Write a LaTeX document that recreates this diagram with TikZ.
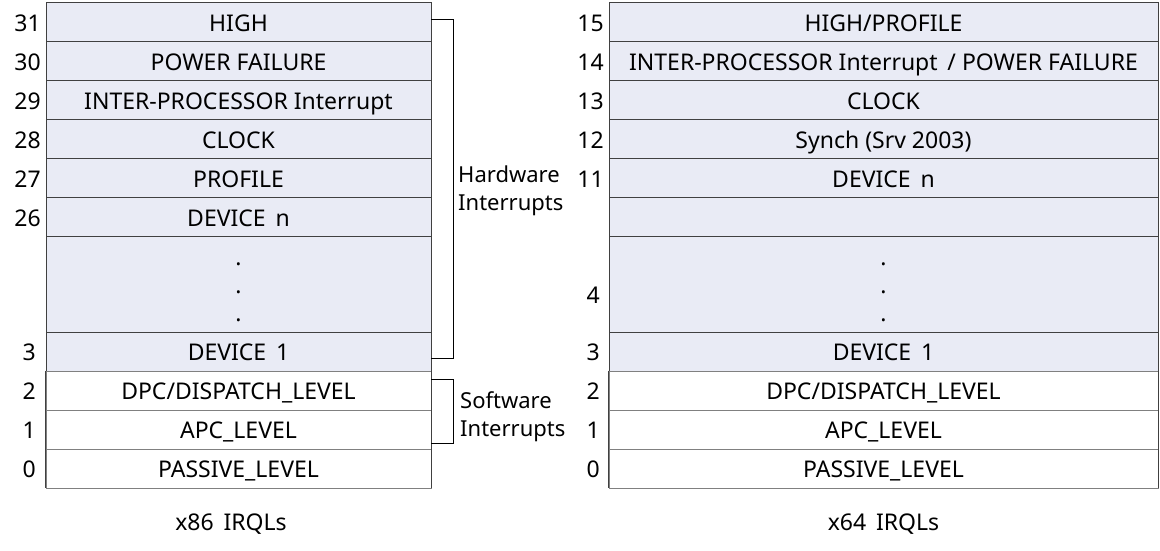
\documentclass[tikz,border=0pt]{standalone}
\usepackage{fontspec}
\setmainfont{Noto Sans}
\definecolor{hwfill}{RGB}{233,235,245}
\definecolor{linedark}{RGB}{64,64,64}
\definecolor{linegray}{RGB}{128,128,128}
\begin{document}
\begin{tikzpicture}[x=1pt,y=-1pt,
  txt/.style={inner sep=0pt, text height=21pt, text depth=2.6pt, font=\fontsize{23}{28}\selectfont},
  cell/.style={txt, draw=linedark, line width=0.9pt, rectangle, minimum height=39pt},
  hwL/.style={cell, fill=hwfill, minimum width=385pt},
  swL/.style={cell, draw=linegray, fill=white, minimum width=385pt},
  hwR/.style={cell, fill=hwfill, minimum width=549pt},
  swR/.style={cell, draw=linegray, fill=white, minimum width=549pt},
  num/.style={txt, anchor=east},
  lbl/.style={anchor=west, inner sep=0pt, align=left, font=\fontsize{22}{28}\selectfont},
  captext/.style={txt},
  dotx/.style={inner sep=0pt, font=\fontsize{23}{28}\selectfont},
  brk/.style={draw=black, line width=0.9pt}
]
\useasboundingbox (0,0) rectangle (1160,550);
% ---------- left table (x86) ----------
\node[hwL] (L31) at (238.5,22)  {HIGH};
\node[hwL] (L30) at (238.5,61)  {POWER FAILURE};
\node[hwL] (L29) at (238.5,100) {INTER-PROCESSOR Interrupt};
\node[hwL] (L28) at (238.5,139) {CLOCK};
\node[hwL] (L27) at (238.5,178) {PROFILE};
\node[hwL] (L26) at (238.5,217) {DEVICE\, n};
\node[hwL, minimum height=96pt] (Ldots) at (238.5,284) {};
\node[hwL] (L3)  at (238.5,351.5) {DEVICE\, 1};
\node[swL] (L2)  at (238.5,390.5) {DPC/DISPATCH\_LEVEL};
\node[swL] (L1)  at (238.5,429.5) {APC\_LEVEL};
\node[swL] (L0)  at (238.5,468.5) {PASSIVE\_LEVEL};
\draw[linedark, line width=0.9pt] (L2.north west) -- (L0.south west) (L2.north east) -- (L0.south east);
\node[dotx] (Ld1) at (238.5,264) {.};
\node[dotx] (Ld2) at (238.5,292) {.};
\node[dotx] (Ld3) at (238.5,320) {.};
\node[num] (nL31) at (41,22)  {31};
\node[num] (nL30) at (41,61)  {30};
\node[num] (nL29) at (41,100) {29};
\node[num] (nL28) at (41,139) {28};
\node[num] (nL27) at (41,178) {27};
\node[num] (nL26) at (41,217) {26};
\node[num] (nL3)  at (36,351.5) {3};
\node[num] (nL2)  at (36,390.5) {2};
\node[num] (nL1)  at (36,429.5) {1};
\node[num] (nL0)  at (36,468.5) {0};
\node[captext] (capL) at (231,521) {x86~\,IRQLs};
% brackets
\coordinate (hwtop) at ([yshift=3pt]L31.east);
\coordinate (hwbot) at ([yshift=-6.5pt]L3.east);
\draw[brk] (hwtop) -- ++(22,0) coordinate (hwc) |- (hwbot);
\coordinate (swtop) at ([yshift=11.5pt]L2.east);
\coordinate (swbot) at ([yshift=-13.5pt]L1.east);
\draw[brk] (swtop) -- ++(22,0) coordinate (swc) |- (swbot);
\node[lbl] (hwlbl) at (458,191) {Hardware\\Interrupts};
\node[lbl] (swlbl) at (460,417) {Software\\Interrupts};
% ---------- right table (x64) ----------
\node[hwR] (R15) at (883.5,22)  {HIGH/PROFILE};
\node[hwR] (R14) at (883.5,61)  {INTER-PROCESSOR Interrupt\, / POWER FAILURE};
\node[hwR] (R13) at (883.5,100) {CLOCK};
\node[hwR] (R12) at (883.5,139) {Synch (Srv 2003)};
\node[hwR] (R11) at (883.5,178) {DEVICE\, n};
\node[hwR] (Rblank) at (883.5,217) {};
\node[hwR, minimum height=96pt] (Rdots) at (883.5,284) {};
\node[hwR] (R3)  at (883.5,351.5) {DEVICE\, 1};
\node[swR] (R2)  at (883.5,390.5) {DPC/DISPATCH\_LEVEL};
\node[swR] (R1)  at (883.5,429.5) {APC\_LEVEL};
\node[swR] (R0)  at (883.5,468.5) {PASSIVE\_LEVEL};
\draw[linedark, line width=0.9pt] (R2.north west) -- (R0.south west) (R2.north east) -- (R0.south east);
\node[dotx] (Rd1) at (883.5,264) {.};
\node[dotx] (Rd2) at (883.5,292) {.};
\node[dotx] (Rd3) at (883.5,320) {.};
\node[num] (nR15) at (604,22)  {15};
\node[num] (nR14) at (604,61)  {14};
\node[num] (nR13) at (604,100) {13};
\node[num] (nR12) at (604,139) {12};
\node[num] (nR11) at (604,178) {11};
\node[num] (nR4)  at (600,294) {4};
\node[num] (nR3)  at (600,351.5) {3};
\node[num] (nR2)  at (600,390.5) {2};
\node[num] (nR1)  at (600,429.5) {1};
\node[num] (nR0)  at (600,468.5) {0};
\node[captext] (capR) at (883.5,521) {x64~\,IRQLs};
\end{tikzpicture}
\end{document}
